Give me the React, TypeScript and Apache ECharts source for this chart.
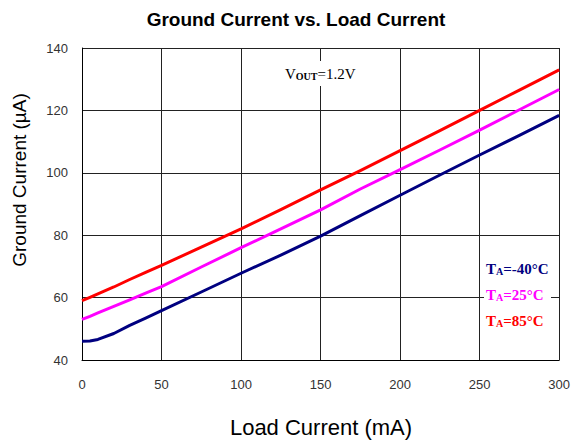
import React, { useEffect, useRef } from "react";
import * as echarts from "echarts";

const loadCurrent = [0, 5, 10, 20, 30, 40, 50, 75, 100, 125, 150, 175, 200, 225, 250, 275, 300];
const gndMinus40 = [46.0, 46.1, 46.6, 48.5, 51.1, 53.4, 55.8, 61.8, 67.8, 73.6, 79.7, 86.3, 92.8, 99.3, 105.7, 112.0, 118.4];
const gnd25 = [53.0, 54.0, 55.1, 57.2, 59.3, 61.4, 63.5, 69.8, 76.0, 82.0, 88.1, 94.8, 101.0, 107.3, 113.7, 120.2, 126.7];
const gnd85 = [59.0, 60.1, 61.2, 63.4, 65.8, 68.1, 70.3, 76.2, 82.0, 88.2, 94.5, 100.7, 107.1, 113.5, 120.0, 126.5, 133.0];

const seriesNames = ["TA=-40°C", "TA=25°C", "TA=85°C"];
const seriesColors = ["#000080", "#FF00FF", "#FF0000"];
const legendTemps = ["=-40°C", "=25°C", "=85°C"];

export default function App() {
  const ref = useRef<HTMLDivElement>(null);
  useEffect(() => {
    if (!ref.current) return;
    const chart = echarts.init(ref.current, null, { renderer: "svg" });
    const toPairs = (vals: number[]) => loadCurrent.map((x, i) => [x, vals[i]]);
    const allVals = [gndMinus40, gnd25, gnd85];
    const serif = "'Liberation Serif', 'Times New Roman', serif";
    chart.setOption({
      animation: false,
      backgroundColor: "#fff",
      grid: { left: 82, right: 12, top: 48, bottom: 81 },
      xAxis: {
        type: "value",
        min: 0,
        max: 300,
        interval: 50,
        axisLine: { show: true, lineStyle: { color: "#000", width: 1 } },
        axisTick: { show: false },
        axisLabel: { color: "#333", fontSize: 13, fontFamily: "Liberation Sans", margin: 18 },
        splitLine: { show: true, lineStyle: { color: "#222", width: 1 } },
      },
      yAxis: {
        type: "value",
        min: 40,
        max: 140,
        interval: 20,
        axisLine: { show: true, lineStyle: { color: "#000", width: 1 } },
        axisTick: { show: false },
        axisLabel: { color: "#333", fontSize: 13, fontFamily: "Liberation Sans", margin: 14 },
        splitLine: { show: true, lineStyle: { color: "#222", width: 1 } },
      },
      series: allVals.map((vals, i) => ({
        name: seriesNames[i],
        type: "line",
        data: toPairs(vals),
        showSymbol: false,
        smooth: false,
        lineStyle: { color: seriesColors[i], width: 3, join: "round" },
        z: 3,
      })),
      graphic: [
        {
          type: "text",
          x: 296,
          y: 19,
          style: {
            text: "Ground Current vs. Load Current",
            font: "bold 19px 'Liberation Sans', Arial, sans-serif",
            fill: "#000",
            align: "center",
            verticalAlign: "middle",
          },
        },
        {
          type: "text",
          x: 321,
          y: 427,
          style: {
            text: "Load Current (mA)",
            font: "22px 'Liberation Sans', Arial, sans-serif",
            fill: "#000",
            align: "center",
            verticalAlign: "middle",
          },
        },
        {
          type: "text",
          x: 19,
          y: 180,
          rotation: Math.PI / 2,
          style: {
            text: "Ground Current (µA)",
            font: "19px 'Liberation Sans', Arial, sans-serif",
            fill: "#000",
            align: "center",
            verticalAlign: "middle",
          },
        },
        {
          type: "rect",
          z: 5,
          shape: { x: 280, y: 61, width: 82, height: 25 },
          style: { fill: "#fff" },
        },
        {
          type: "text",
          z: 6,
          x: 285,
          y: 72,
          style: {
            text: "{v|V}{s|OUT}{v|=1.2V}",
            align: "left",
            verticalAlign: "middle",
            rich: {
              v: { fontFamily: serif, fontSize: 15, fill: "#000", lineHeight: 18, verticalAlign: "bottom" },
              s: { fontFamily: serif, fontSize: 10, fontWeight: "bold", fill: "#000", lineHeight: 14, verticalAlign: "bottom" },
            },
          },
        },
        {
          type: "rect",
          z: 5,
          shape: { x: 484, y: 254, width: 67, height: 78 },
          style: { fill: "#fff" },
        },
        ...legendTemps.map((t, i) => ({
          type: "text",
          z: 6,
          x: 486,
          y: 267 + i * 26,
          style: {
            text: `{m|T}{s|A}{m|${t}}`,
            align: "left",
            verticalAlign: "middle",
            rich: {
              m: { fontFamily: serif, fontSize: 15, fontWeight: "bold", fill: seriesColors[i], lineHeight: 18, verticalAlign: "bottom" },
              s: { fontFamily: serif, fontSize: 10, fontWeight: "bold", fill: seriesColors[i], lineHeight: 14, verticalAlign: "bottom" },
            },
          },
        })),
      ],
    });
    return () => chart.dispose();
  }, []);
  return <div ref={ref} style={{ width: 573, height: 441, position: "absolute", left: 0, top: 0 }} />;
}
